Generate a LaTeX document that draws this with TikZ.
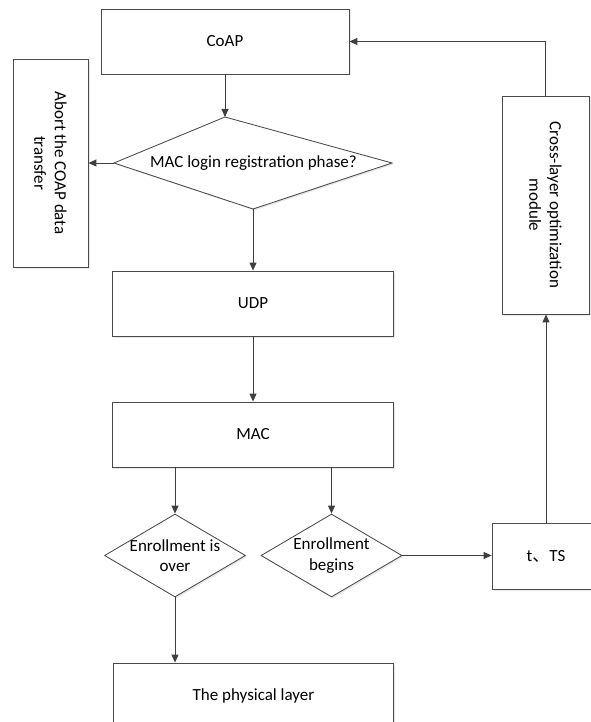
\documentclass[tikz,border=0pt]{standalone}
\usepackage{fontspec}
\setmainfont{Carlito}
\newfontfamily\cjkfont{Noto Sans CJK SC}
\usetikzlibrary{positioning,shapes.geometric,arrows.meta,shadows}
\definecolor{flowline}{HTML}{3F3F3F}
\definecolor{flowedge}{HTML}{4A4A4A}
\newcommand{\flowfont}{\fontsize{17}{20.5}\selectfont}

\begin{document}
\begin{tikzpicture}[x=1pt, y=-1pt, layerbox/.style={draw=flowedge, fill=white, line width=0.85pt, minimum width=248pt, minimum height=65pt, inner sep=0pt, font=\flowfont, drop shadow={opacity=0.18, shadow xshift=1.5pt, shadow yshift=-1.5pt}}, decision/.style={diamond, draw=flowedge, fill=white, line width=0.85pt, minimum width=141pt, minimum height=83pt, inner sep=0pt, drop shadow={opacity=0.18, shadow xshift=1.5pt, shadow yshift=-1.5pt}}, every label/.style={font=\flowfont, align=center, inner sep=0pt}, arrow/.style={-{Triangle[length=8pt, width=7pt]}, draw=flowline, line width=0.9pt}]
\useasboundingbox (0,0) rectangle (590,722);
\node[layerbox] (coap) at (225,41.5) {CoAP};
\coordinate (loginN) at (225,117);
\coordinate (loginE) at (392,163);
\coordinate (loginS) at (253,209);
\coordinate (loginW) at (114,163);
\draw[draw=flowedge, fill=white, line width=0.85pt, drop shadow={opacity=0.18, shadow xshift=1.5pt, shadow yshift=-1.5pt}] (loginN) -- (loginE) -- (loginS) -- (loginW) -- cycle;
\node[font=\flowfont, inner sep=0pt] (login) at (253.5,163) {MAC login registration phase?};
\draw[arrow] (coap.south) -- (loginN);
\node[layerbox, minimum width=75pt, minimum height=208pt, label={[rotate=-90]center:Abort the COAP data\\transfer}] (abort) at (50.5,163) {};
\draw[arrow] (loginW) -- (abort.east);
\node[layerbox, minimum width=281pt] (udp) at (253,303.5) {UDP};
\draw[arrow] (loginS) -- (udp.north);
\node[layerbox, minimum width=281pt] (mac) at (253,434.5) {MAC};
\draw[arrow] (udp) -- (mac);
\node[decision, label={center:Enrollment is\\over}] (over) at (175,555.5) {};
\draw[arrow] (over.north |- mac.south) -- (over.north);
\node[decision, label={center:Enrollment\\begins}] (begins) at (331.5,555.5) {};
\draw[arrow] (begins.north |- mac.south) -- (begins.north);
\node[layerbox, minimum width=108pt, minimum height=66pt] (ts) at (546,556) {t{\cjkfont 、}TS};
\draw[arrow] (begins.east) -- (begins.east -| ts.west);
\node[layerbox, minimum width=87pt, minimum height=218pt, label={[rotate=-90]center:Cross-layer optimization\\module}] (cross) at (545.5,205) {};
\draw[arrow] (ts.north) -- (ts.north |- cross.south);
\draw[arrow] (cross.north) |- (coap.east);
\node[layerbox, minimum width=280pt] (phy) at (253.5,695.5) {The physical layer};
\draw[arrow] (over.south) -- (over.south |- phy.north);
\end{tikzpicture}
\end{document}
